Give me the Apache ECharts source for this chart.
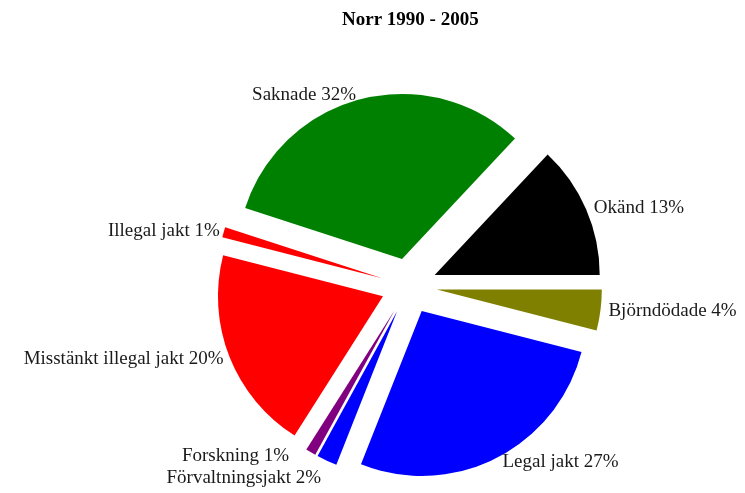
<!DOCTYPE html>
<html><head><meta charset="utf-8">
<script src="https://cdn.jsdelivr.net/npm/echarts@6/dist/echarts.min.js"></script>
<style>html,body{margin:0;padding:0;background:#fff}#c{width:745px;height:493px}</style>
</head><body><div id="c"></div>
<script>
const titleText = 'Norr 1990 - 2005';
const categories = ['Björndödade', 'Legal jakt', 'Förvaltningsjakt', 'Forskning', 'Misstänkt illegal jakt', 'Illegal jakt', 'Saknade', 'Okänd'];
const values = [4, 27, 2, 1, 20, 1, 32, 13];
const colors = ['#808000', '#0000ff', '#0000ff', '#800080', '#ff0000', '#ff0000', '#008000', '#000000'];

const chart = echarts.init(document.getElementById('c'), null, {renderer: 'canvas'});
const data = categories.map((name, i) => ({
  name: name, value: values[i], selected: true,
  itemStyle: {color: colors[i]}
}));
chart.setOption({
  animation: false,
  backgroundColor: '#fff',
  title: {
    text: titleText, left: 337, top: 6,
    textStyle: {fontFamily: 'Liberation Serif', fontWeight: 'bold', fontSize: 19, color: '#000'}
  },
  series: [{
    type: 'pie',
    center: [409, 286],
    radius: 165,
    startAngle: 0,
    clockwise: true,
    selectedMode: 'multiple',
    selectedOffset: 28,
    avoidLabelOverlap: true,
    itemStyle: {borderWidth: 0},
    emphasis: {disabled: true},
    label: {
      show: true, position: 'outside', formatter: '{b} {c}%',
      fontFamily: 'Liberation Serif', fontSize: 19, color: '#1a1a1a',
      distanceToLabelLine: 4
    },
    labelLine: {show: false, length: 4, length2: 0},
    data: data
  }]
});
</script></body></html>
